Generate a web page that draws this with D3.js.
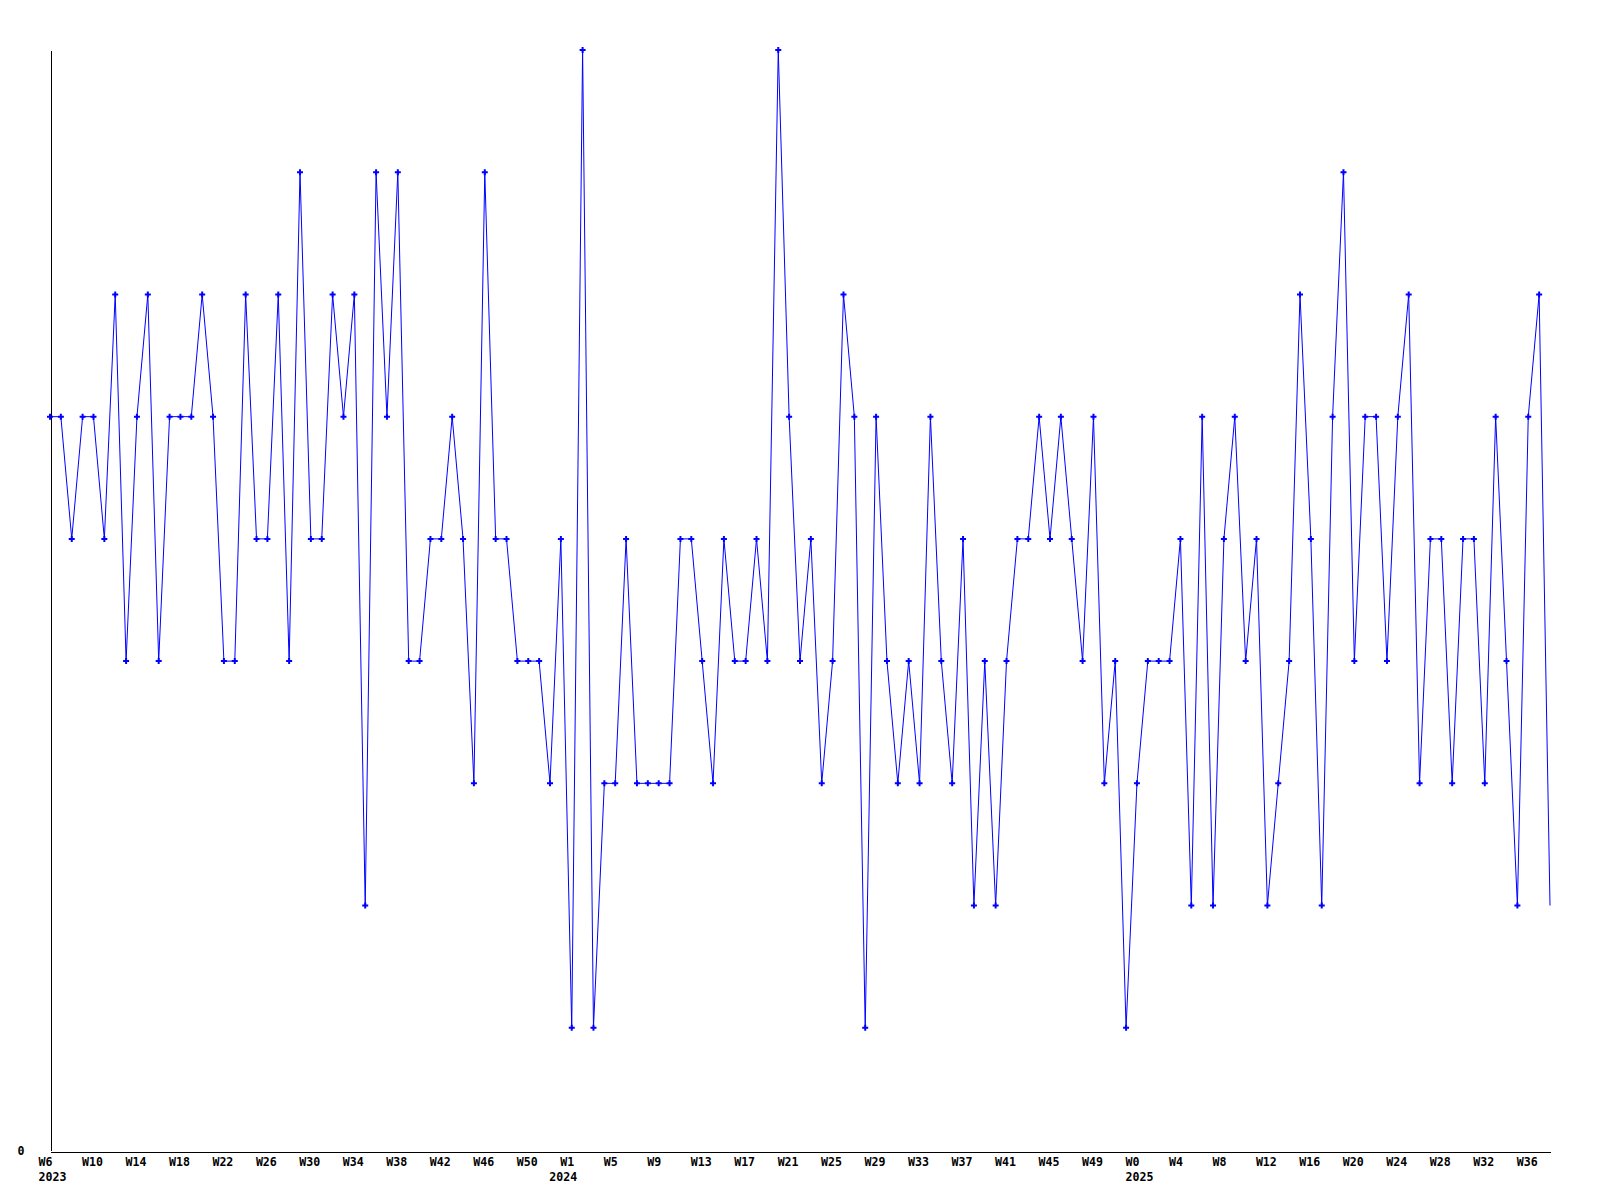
<!DOCTYPE html>
<html>
<head>
<meta charset="utf-8">
<script src="https://cdn.jsdelivr.net/npm/d3@7"></script>
<style>
body { margin: 0; background: #fff; }
svg { display: block; }
.axis text { font-family: "DejaVu Sans Mono", monospace; font-weight: bold; font-size: 11.6px; fill: #000; }
.axis path { stroke: #000; stroke-width: 1; shape-rendering: crispEdges; }
</style>
</head>
<body>
<div id="viz"></div>
<script>
var width = 1600;
var height = 1200;

// weekly values, first point is W6 2023
var values = [6,6,5,6,6,5,7,4,6,7, 4,6,6,6,7,6,4,4,7,5,
    5,7,4,8,5,5,7,6,7,2, 8,6,8,4,4,5,5,6,5,3,
    8,5,5,4,4,4,3,5,1,9, 1,3,3,5,3,3,3,3,5,5,
    4,3,5,4,4,5,4,9,6,4, 5,3,4,7,6,1,6,4,3,4,
    3,6,4,3,5,2,4,2,4,5, 5,6,5,6,5,4,6,3,4,1,
    3,4,4,4,5,2,6,2,5,6, 4,5,2,3,4,7,5,2,6,8,
    4,6,6,4,6,7,3,5,5,3, 5,5,3,6,4,2,6,7,2];

// one label every 4 weeks
var weekLabels = ["W6","W10","W14","W18","W22","W26","W30","W34","W38","W42","W46","W50",
    "W1","W5","W9","W13","W17","W21","W25","W29","W33","W37","W41","W45","W49",
    "W0","W4","W8","W12","W16","W20","W24","W28","W32","W36"];

var years = ["2023", "2024", "2025"];
var yearWeekIndex = [0, 47, 100];

var svg = d3.select("div#viz")
    .append("svg")
    .attr("width", width)
    .attr("height", height)
    .style("background", "#fff");

var x = d3.scaleLinear()
    .domain([0, values.length - 1])
    .range([50, 1550]);

var y = d3.scaleLinear()
    .domain([0, 9])
    .range([1150, 50]);

// x axis with week labels
var xAxis = svg.append("g")
    .attr("class", "axis")
    .attr("transform", "translate(0,1151.5)")
    .call(d3.axisBottom(x)
        .tickValues(weekLabels.map(function(d, i) { return i * 4; }))
        .tickFormat(function(d, i) { return weekLabels[i]; })
        .tickSize(0)
        .tickSizeOuter(0));

xAxis.selectAll("text")
    .attr("text-anchor", "start")
    .attr("x", -12)
    .attr("y", 14)
    .attr("dy", 0);

// second row: years
var yearAxis = svg.append("g")
    .attr("class", "axis")
    .attr("transform", "translate(0,1151.5)")
    .call(d3.axisBottom(x)
        .tickValues(yearWeekIndex)
        .tickFormat(function(d, i) { return years[i]; })
        .tickSize(0));

yearAxis.select(".domain").remove();
yearAxis.selectAll("text")
    .attr("text-anchor", "start")
    .attr("x", -12)
    .attr("y", 29)
    .attr("dy", 0);

// y axis, only the 0 label
var yAxis = svg.append("g")
    .attr("class", "axis")
    .attr("transform", "translate(50.5,0)")
    .call(d3.axisLeft(y)
        .tickValues([0])
        .tickSize(0)
        .tickSizeOuter(0));

yAxis.selectAll("text")
    .attr("text-anchor", "end")
    .attr("x", -26)
    .attr("dy", "0.36em");

var line = d3.line()
    .x(function(d, i) { return x(i); })
    .y(function(d) { return y(d); });

svg.append("path")
    .datum(values)
    .attr("fill", "none")
    .attr("stroke", "#0000ff")
    .attr("stroke-width", 1)
    .attr("d", line);

// markers on every point except the last (current) week
svg.append("g")
    .selectAll("path")
    .data(values.slice(0, values.length - 1))
    .enter().append("path")
    .attr("transform", function(d, i) { return "translate(" + x(i) + "," + y(d) + ")"; })
    .attr("d", d3.symbol().type(d3.symbolCross).size(20))
    .attr("fill", "#0000ff");
</script>
</body>
</html>
